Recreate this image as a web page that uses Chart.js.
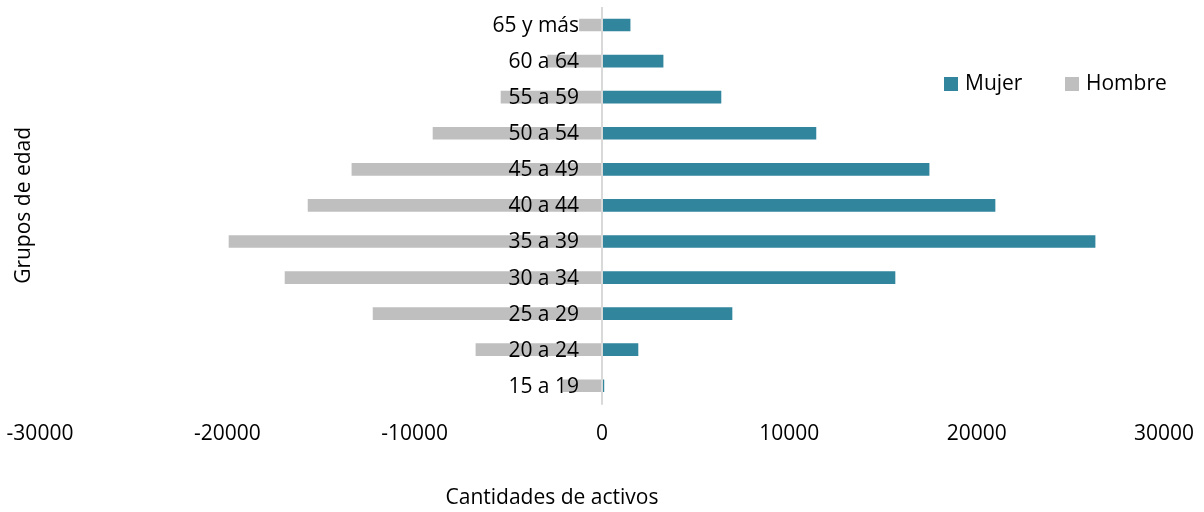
<!DOCTYPE html>
<html>
<head>
<meta charset="utf-8">
<script src="https://cdn.jsdelivr.net/npm/chart.js@4/dist/chart.umd.min.js"></script>
<style>
html,body{margin:0;padding:0;background:#fff;}
#wrap{width:1204px;height:512px;position:relative;}
</style>
</head>
<body>
<div id="wrap"><canvas id="c" width="1204" height="512"></canvas></div>
<script>
const categories = ['65 y más','60 a 64','55 a 59','50 a 54','45 a 49','40 a 44','35 a 39','30 a 34','25 a 29','20 a 24','15 a 19'];
const mujer = [1500, 3260, 6350, 11420, 17460, 20980, 26320, 15640, 6940, 1920, 100];
const hombre = [-1200, -2900, -5390, -9020, -13350, -15690, -19910, -16920, -12220, -6730, -2080];
const xTicks = [-30000, -20000, -10000, 0, 10000, 20000, 30000];
const xTitle = 'Cantidades de activos';
const yTitle = 'Grupos de edad';

const FONT = "'Open Sans', sans-serif";
const TEAL = '#31859C';
const GRAY = '#BFBFBF';

const overlay = {
  id: 'overlay',
  afterDatasetsDraw(chart) {
    const ctx = chart.ctx;
    const xs = chart.scales.x, ys = chart.scales.y;
    const ca = chart.chartArea;
    const x0 = xs.getPixelForValue(0);
    ctx.save();
    ctx.strokeStyle = '#D9D9D9';
    ctx.lineWidth = 2;
    ctx.beginPath();
    ctx.moveTo(x0, ca.top);
    ctx.lineTo(x0, ca.bottom + 1);
    ctx.stroke();
    ctx.font = '21px ' + FONT;
    ctx.fillStyle = '#000';
    ctx.textAlign = 'right';
    ctx.textBaseline = 'middle';
    categories.forEach((c, i) => {
      ctx.fillText(c, x0 - 23, ys.getPixelForValue(i) + 1);
    });
    ctx.textAlign = 'center';
    ctx.fillText(xTitle, x0 - 50, 498);
    ctx.save();
    ctx.translate(24, (ca.top + ca.bottom) / 2);
    ctx.rotate(-Math.PI / 2);
    ctx.fillText(yTitle, 0, 0);
    ctx.restore();
    const ds = chart.data.datasets;
    const items = [{x: 944, ds: ds[0]}, {x: 1065, ds: ds[1]}];
    ctx.textAlign = 'left';
    items.forEach(it => {
      ctx.fillStyle = it.ds.backgroundColor;
      ctx.fillRect(it.x, 77, 14, 14);
      ctx.fillStyle = '#000';
      ctx.fillText(it.ds.label, it.x + 21, 84);
    });
    ctx.restore();
  }
};

new Chart(document.getElementById('c'), {
  type: 'bar',
  data: {
    labels: categories,
    datasets: [
      {label: 'Mujer', data: mujer, backgroundColor: TEAL, barThickness: 12},
      {label: 'Hombre', data: hombre, backgroundColor: GRAY, barThickness: 12}
    ]
  },
  options: {
    indexAxis: 'y',
    responsive: false,
    animation: false,
    layout: {padding: {left: 40, right: 40, top: 7, bottom: 47}},
    plugins: {legend: {display: false}, tooltip: {enabled: false}},
    scales: {
      x: {
        stacked: true,
        min: -30000, max: 30000,
        afterBuildTicks(scale) { scale.ticks = xTicks.map(v => ({value: v})); },
        afterFit(scale) { scale.paddingLeft = 0; scale.paddingRight = 0; },
        grid: {display: false, drawTicks: false},
        border: {display: false},
        ticks: {color: '#000', font: {family: FONT, size: 21}, padding: 18, maxRotation: 0, autoSkip: false,
          callback: v => String(v)}
      },
      y: {
        stacked: true,
        display: false
      }
    }
  },
  plugins: [overlay]
});
</script>
</body>
</html>
